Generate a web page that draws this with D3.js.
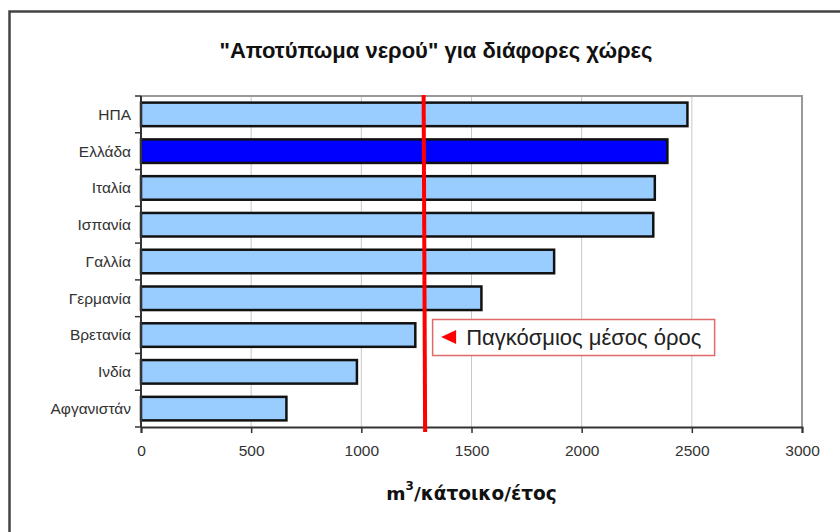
<!DOCTYPE html>
<html>
<head>
<meta charset="utf-8">
<script src="https://cdn.jsdelivr.net/npm/d3@7"></script>
<style>
  html, body { margin: 0; padding: 0; background: #fff; }
  svg { display: block; }
</style>
</head>
<body>
<svg id="chart" width="840" height="532"></svg>
<script>
// Water footprint per capita (m³ per inhabitant per year)
const countries = ["ΗΠΑ", "Ελλάδα", "Ιταλία", "Ισπανία", "Γαλλία", "Γερμανία", "Βρετανία", "Ινδία", "Αφγανιστάν"];
const footprint = [2480, 2389, 2332, 2325, 1875, 1545, 1245, 980, 660];
const highlighted = ["Ελλάδα"];
const worldAverage = [1285];
const xTicks = [0, 500, 1000, 1500, 2000, 2500, 3000];

const titleText = "\"Αποτύπωμα νερού\" για διάφορες χώρες";
const averageLabel = "Παγκόσμιος μέσος όρος";

const svg = d3.select("#chart");
const plot = { left: 141, right: 802, top: 96, bottom: 427 };

const x = d3.scaleLinear().domain([0, 3000]).range([plot.left, plot.right]);
const y = d3.scaleBand().domain(countries).range([plot.top, plot.bottom])
  .paddingInner(0.36).paddingOuter(0.18);

// outer frame (open on the right and bottom)
svg.append("path")
  .attr("d", "M9.5,540 L9.5,11.5 L850,11.5")
  .attr("fill", "none").attr("stroke", "#444").attr("stroke-width", 2.5);

// title
svg.append("text")
  .attr("x", 436).attr("y", 58)
  .attr("text-anchor", "middle")
  .attr("font-family", "Liberation Sans, Arial, sans-serif")
  .attr("font-weight", "bold").attr("font-size", 22)
  .attr("fill", "#111")
  .text(titleText);

// vertical gridlines
svg.append("g").selectAll("line")
  .data(xTicks.filter(d => d > 0 && d < 3000))
  .join("line")
  .attr("x1", d => x(d)).attr("x2", d => x(d))
  .attr("y1", plot.top).attr("y2", plot.bottom)
  .attr("stroke", "#c8c8c8").attr("stroke-width", 1);

// plot frame (top and right)
svg.append("path")
  .attr("d", `M${plot.left},${plot.top} L${plot.right},${plot.top} L${plot.right},${plot.bottom}`)
  .attr("fill", "none").attr("stroke", "#999").attr("stroke-width", 2);

// bars
svg.append("g").selectAll("rect")
  .data(countries.map((c, i) => ({ c, v: footprint[i] })))
  .join("rect")
  .attr("x", x(0))
  .attr("y", d => y(d.c))
  .attr("width", d => x(d.v) - x(0))
  .attr("height", y.bandwidth())
  .attr("fill", d => highlighted.includes(d.c) ? "#0000ff" : "#99ccff")
  .attr("stroke", "#111").attr("stroke-width", 2.5);

// y axis: line, ticks between categories, labels
const step = y.step();
const yBounds = d3.range(countries.length + 1).map(i => plot.top + i * step);
const yAxis = svg.append("g");
yAxis.append("line")
  .attr("x1", plot.left).attr("x2", plot.left)
  .attr("y1", plot.top).attr("y2", plot.bottom)
  .attr("stroke", "#333").attr("stroke-width", 2);
yAxis.selectAll("line.tick").data(yBounds).join("line").attr("class", "tick")
  .attr("x1", plot.left - 6).attr("x2", plot.left)
  .attr("y1", d => d).attr("y2", d => d)
  .attr("stroke", "#333").attr("stroke-width", 1.5);
yAxis.selectAll("text").data(countries).join("text")
  .attr("x", plot.left - 10)
  .attr("y", d => y(d) + y.bandwidth() / 2)
  .attr("dy", "0.35em")
  .attr("text-anchor", "end")
  .attr("font-family", "Liberation Sans, Arial, sans-serif")
  .attr("font-size", 15.5).attr("fill", "#333")
  .text(d => d);

// x axis
const xAxis = svg.append("g").attr("transform", `translate(0,${plot.bottom})`)
  .call(d3.axisBottom(x).tickValues(xTicks).tickSize(6).tickPadding(12).tickFormat(d3.format("d")));
xAxis.select(".domain").attr("stroke", "#333").attr("stroke-width", 2);
xAxis.selectAll(".tick line").attr("stroke", "#333").attr("stroke-width", 1.5);
xAxis.selectAll(".tick text")
  .attr("font-family", "Liberation Sans, Arial, sans-serif")
  .attr("font-size", 15.5).attr("fill", "#333");

// x axis title with superscript
const xt = svg.append("text")
  .attr("x", (plot.left + plot.right) / 2).attr("y", 500)
  .attr("text-anchor", "middle")
  .attr("font-family", "DejaVu Sans, Verdana, sans-serif")
  .attr("font-weight", "bold").attr("font-size", 18.5)
  .attr("fill", "#111");
xt.append("tspan").text("m");
xt.append("tspan").attr("dy", -10).attr("font-size", 12).text("3");
xt.append("tspan").attr("dy", 10).text("/κάτοικο/έτος");

// world average reference line
svg.append("g").selectAll("line").data(worldAverage).join("line")
  .attr("x1", d => x(d) - 0.5).attr("x2", d => x(d) + 1)
  .attr("y1", plot.top - 1).attr("y2", plot.bottom + 5)
  .attr("stroke", "#ff0000").attr("stroke-width", 4);

// annotation box for the average line
const note = svg.append("g").attr("transform", `translate(${x(worldAverage[0]) + 8},319)`);
note.append("rect")
  .attr("x", 0.5).attr("y", 0.5).attr("width", 282).attr("height", 36)
  .attr("fill", "#fff").attr("stroke", "#e06a6a").attr("stroke-width", 1.5);
note.append("path")
  .attr("d", "M9,18 L24,11 L24,25 Z")
  .attr("fill", "#ff0000");
note.append("text")
  .attr("x", 34).attr("y", 18).attr("dy", "0.36em")
  .attr("font-family", "Liberation Sans, Arial, sans-serif")
  .attr("font-size", 22).attr("fill", "#222")
  .text(averageLabel);
</script>
</body>
</html>
